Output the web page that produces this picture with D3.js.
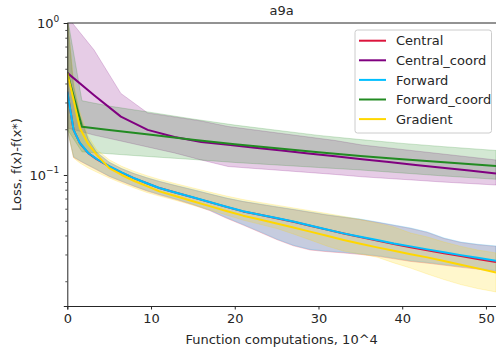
<!DOCTYPE html>
<html><head><meta charset="utf-8">
<script src="https://cdn.jsdelivr.net/npm/d3@7"></script>
<style>body{margin:0;background:#fff}svg{display:block}text{font-family:"DejaVu Sans",sans-serif;fill:#262626}</style>
</head><body><svg id="c" width="496" height="350"></svg>
<script>
const title = "a9a";
const xLabel = "Function computations, 10^4";
const yLabel = "Loss, f(x)-f(x*)";
const xTicks = [0, 10, 20, 30, 40, 50];
const yMajor = [1, 0.1];
const yMajorExp = ["0", "\u22121"];
const yMinor = [0.9,0.8,0.7,0.6,0.5,0.4,0.3,0.2,0.09,0.08,0.07,0.06,0.05,0.04,0.03,0.02];
const names = ["Central", "Central_coord", "Forward", "Forward_coord", "Gradient"];
const colors = ["#dc143c", "#800080", "#00bfff", "#228b22", "#ffd700"];

// Central_coord
const ccX = [0,3.2,6.4,9.6,12.8,16,19.2,22.4,25.6,28.8,32,35.2,38.4,41.6,44.8,48,51.2];
const ccMean = [0.47,0.335,0.242,0.198,0.178,0.165,0.1578,0.1512,0.1447,0.1385,0.1327,0.127,0.1218,0.1165,0.1115,0.1069,0.1023];
const ccUp = [1.1,0.664,0.344,0.256,0.241,0.2266,0.2085,0.1977,0.1875,0.1778,0.1686,0.1575,0.1506,0.1439,0.1375,0.1314,0.1255];
const ccLo = [0.204,0.183,0.1674,0.1528,0.1396,0.1255,0.1137,0.1103,0.1071,0.1039,0.1008,0.0973,0.0948,0.0924,0.0899,0.0879,0.0859];

// Forward_coord
const fcX = [0,1.75,5,10,15,20,25,30,35,40,45,51.2];
const fcMean = [0.47,0.208,0.198,0.1838,0.1707,0.1592,0.1498,0.1411,0.1334,0.1271,0.1212,0.1146];
const fcUp = [1.1,0.308,0.284,0.258,0.2335,0.213,0.197,0.1822,0.171,0.1614,0.1535,0.145];
const fcLo = [0.2,0.142,0.1379,0.1319,0.1265,0.1209,0.1164,0.112,0.1079,0.1031,0.0985,0.0937];

// Central, Forward, Gradient share one x grid
const lgX = [0,0.75,1.5,2.5,3.5,5,6.5,8,9.5,11,13,15,17,19,21,23,25,27,29,31,33,35,37,39,41,43,45,47,49,51.2];
const cMean = [0.353,0.198,0.162,0.1393,0.1272,0.1141,0.1037,0.095,0.0882,0.082,0.0764,0.0712,0.0663,0.0617,0.0576,0.0547,0.052,0.0493,0.0464,0.0437,0.0412,0.039,0.037,0.0351,0.0335,0.032,0.0306,0.0293,0.028,0.0268];
const cUp = [1.1,0.38,0.245,0.171,0.1405,0.121,0.1098,0.1018,0.0957,0.0905,0.0849,0.0798,0.0749,0.0703,0.0668,0.0641,0.0616,0.0592,0.0568,0.0545,0.0527,0.0509,0.0488,0.0466,0.0445,0.0419,0.0382,0.036,0.0348,0.0339];
const cLo = [0.2,0.1305,0.1235,0.1155,0.1082,0.0978,0.0905,0.0841,0.0785,0.074,0.0689,0.0637,0.0583,0.052,0.0468,0.042,0.0376,0.0342,0.0321,0.0313,0.0307,0.03,0.0292,0.0281,0.027,0.0263,0.0255,0.0247,0.024,0.0232];
const fwMean = [0.353,0.198,0.1624,0.1395,0.1274,0.1143,0.1039,0.0951,0.0883,0.0821,0.0765,0.0713,0.0664,0.0618,0.0577,0.0548,0.0521,0.0494,0.0465,0.0438,0.0413,0.0392,0.0373,0.0354,0.0339,0.0324,0.031,0.0297,0.0285,0.0273];
const fwUp = [1.1,0.39,0.248,0.1725,0.1417,0.1218,0.1103,0.1024,0.0961,0.091,0.0853,0.0802,0.0752,0.0707,0.0671,0.0645,0.0619,0.0595,0.0571,0.0548,0.053,0.0513,0.0491,0.0469,0.0448,0.0422,0.0385,0.0362,0.035,0.0341];
const fwLo = [0.2,0.1319,0.1245,0.1164,0.109,0.0985,0.0912,0.0847,0.0791,0.0746,0.0695,0.0642,0.0588,0.0525,0.0472,0.0424,0.0379,0.0345,0.0324,0.0316,0.031,0.0303,0.0295,0.0284,0.0273,0.0266,0.0258,0.025,0.0243,0.0235];
const gMean = [0.467,0.3128,0.2038,0.1594,0.136,0.1109,0.1,0.0913,0.0844,0.078,0.0724,0.0672,0.0624,0.058,0.054,0.0509,0.0479,0.0451,0.0424,0.0398,0.0374,0.0353,0.0334,0.0317,0.0301,0.0287,0.0272,0.0257,0.0243,0.0228];
const gUp = [1.1,0.42,0.26,0.18,0.147,0.126,0.114,0.1055,0.099,0.0935,0.0875,0.0822,0.0772,0.0727,0.0689,0.066,0.0633,0.0607,0.0582,0.0558,0.0534,0.051,0.0482,0.0455,0.0415,0.0391,0.0362,0.0339,0.0321,0.0307];
const gLo = [0.2,0.1293,0.12,0.1112,0.1045,0.0956,0.0885,0.0822,0.0767,0.0726,0.068,0.0632,0.0589,0.0546,0.0505,0.0474,0.0445,0.0409,0.0374,0.0341,0.0316,0.0302,0.0288,0.0264,0.0244,0.0223,0.0205,0.019,0.0179,0.017];

const series = [
  {x: lgX, m: cMean, u: cUp, l: cLo},
  {x: ccX, m: ccMean, u: ccUp, l: ccLo},
  {x: lgX, m: fwMean, u: fwUp, l: fwLo},
  {x: fcX, m: fcMean, u: fcUp, l: fcLo},
  {x: lgX, m: gMean, u: gUp, l: gLo}
];

const L = 67.3, R = 496, T = 23, B = 306;
const FS = 13;
const svg = d3.select("#c");
const x = d3.scaleLinear().domain([0, 51.2]).range([L, R]);
const y = d3.scaleLog().domain([0.01374, 1]).range([B, T]);

svg.append("defs").append("clipPath").attr("id", "clip")
  .append("rect").attr("x", L).attr("y", T).attr("width", R - L).attr("height", B - T);
const plot = svg.append("g").attr("clip-path", "url(#clip)");

series.forEach((s, i) => {
  const pts = s.x.map((v, k) => ({x: v, u: s.u[k], l: s.l[k]}));
  plot.append("path").datum(pts)
    .attr("d", d3.area().x(d => x(d.x)).y0(d => y(d.l)).y1(d => y(d.u)))
    .attr("fill", colors[i]).attr("fill-opacity", 0.2)
    .attr("stroke", colors[i]).attr("stroke-opacity", 0.2).attr("stroke-width", 1);
});
series.forEach((s, i) => {
  const pts = s.x.map((v, k) => ({x: v, m: s.m[k]}));
  plot.append("path").datum(pts)
    .attr("d", d3.line().x(d => x(d.x)).y(d => y(d.m)))
    .attr("fill", "none").attr("stroke", colors[i]).attr("stroke-width", 2)
    .attr("stroke-linejoin", "round").attr("stroke-linecap", "butt");
});

// spines
const ax = "#262626";
svg.append("line").attr("x1", L).attr("x2", R).attr("y1", T).attr("y2", T).attr("stroke", ax).attr("stroke-width", 1);
// x axis
const xa = svg.append("g").attr("transform", `translate(0,${B})`)
  .call(d3.axisBottom(x).tickValues(xTicks).tickSize(3.5).tickPadding(4.5).tickFormat(d3.format("d")));
xa.select(".domain").attr("stroke", ax);
xa.selectAll(".tick line").attr("stroke", ax);
xa.selectAll("text").attr("font-size", FS).attr("font-family", "DejaVu Sans").attr("fill", "#262626");
// y axis
const ya = svg.append("g").attr("transform", `translate(${L},0)`)
  .call(d3.axisLeft(y).tickValues(yMajor).tickSize(3.5).tickFormat(""));
ya.select(".domain").attr("stroke", ax);
ya.selectAll(".tick line").attr("stroke", ax);
const ym = svg.append("g").attr("transform", `translate(${L},0)`)
  .call(d3.axisLeft(y).tickValues(yMinor).tickSize(2).tickFormat(""));
ym.select(".domain").remove();
ym.selectAll(".tick line").attr("stroke", ax).attr("stroke-width", 0.8);
yMajor.forEach((v, i) => {
  const t = svg.append("text").attr("x", L - 8).attr("y", y(v) + 5)
    .attr("text-anchor", "end").attr("font-size", FS);
  t.append("tspan").text("10");
  t.append("tspan").attr("dy", -6.5).attr("font-size", 9).text(yMajorExp[i]);
});

svg.append("text").attr("x", (L + R) / 2).attr("y", 15).attr("text-anchor", "middle").attr("font-size", 13).text(title);
svg.append("text").attr("x", (L + R) / 2).attr("y", 344).attr("text-anchor", "middle").attr("font-size", FS).text(xLabel);
svg.append("text").attr("transform", `translate(21,${(T + B) / 2}) rotate(-90)`).attr("text-anchor", "middle").attr("font-size", FS).text(yLabel);

// legend
const lg = svg.append("g");
lg.append("rect").attr("x", 355).attr("y", 30).attr("width", 136.5).attr("height", 103).attr("rx", 2.5)
  .attr("fill", "#fff").attr("fill-opacity", 0.8).attr("stroke", "#cccccc").attr("stroke-width", 1);
names.forEach((n, i) => {
  const yy = 40.7 + i * 19.6;
  lg.append("line").attr("x1", 359).attr("x2", 386).attr("y1", yy).attr("y2", yy).attr("stroke", colors[i]).attr("stroke-width", 2);
  lg.append("text").attr("x", 396).attr("y", yy + 4.6).attr("font-size", FS).text(n);
});
</script></body></html>
